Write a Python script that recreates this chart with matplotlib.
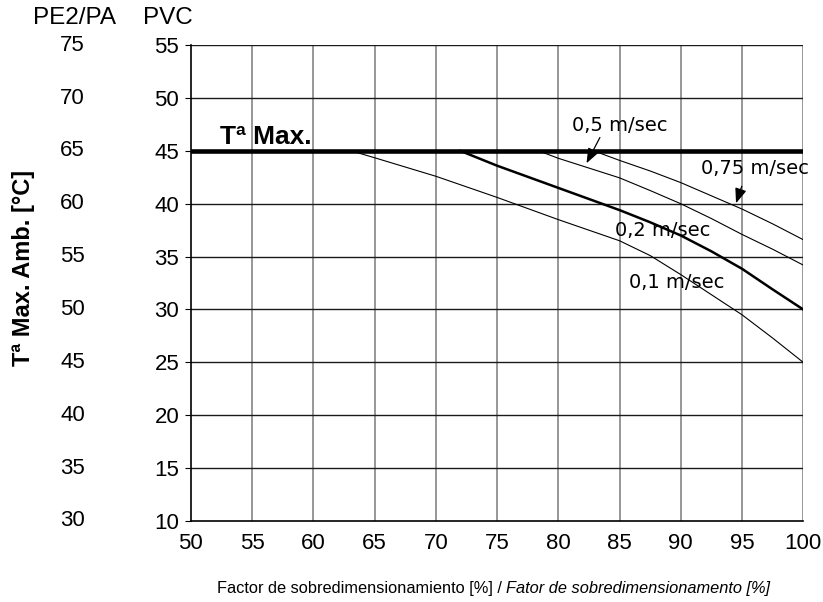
import matplotlib
matplotlib.use('Agg')
import matplotlib.pyplot as plt
from matplotlib.transforms import blended_transform_factory

plt.rcParams['font.family'] = ['Liberation Sans', 'DejaVu Sans']

# curves, PVC scale (left axis)
v01_x = [63.1, 65, 70, 75, 80, 85, 87.5, 90, 92.5, 95, 97.5, 100]
v01_y = [45, 44.35, 42.6, 40.6, 38.5, 36.5, 35.1, 33.3, 31.4, 29.5, 27.3, 25]
v02_x = [72, 75, 80, 85, 87.5, 90, 92.5, 95, 97.5, 100]
v02_y = [45, 43.6, 41.5, 39.4, 38.25, 37.0, 35.5, 33.85, 31.9, 30]
v05_x = [78.4, 80, 85, 87.5, 90, 92.5, 95, 97.5, 100]
v05_y = [45, 44.3, 42.45, 41.25, 40.0, 38.6, 37.1, 35.7, 34.2]
v075_x = [82.9, 85, 87.5, 90, 92.5, 95, 97.5, 100]
v075_y = [45, 44.1, 43.1, 42.0, 40.75, 39.5, 38.1, 36.6]

t_max = 45
pvc_ticks = [10, 15, 20, 25, 30, 35, 40, 45, 50, 55]
pe_ticks = [30, 35, 40, 45, 50, 55, 60, 65, 70, 75]
x_ticks = [50, 55, 60, 65, 70, 75, 80, 85, 90, 95, 100]

fig = plt.figure(figsize=(8.23, 6.02), dpi=100)
ax = fig.add_axes([0.232, 0.1346, 0.744, 0.7904])

ax.set_xlim(50, 100)
ax.set_ylim(10, 55)
ax.set_xticks(x_ticks)
ax.set_yticks(pvc_ticks)
ax.tick_params(axis='x', length=0, pad=8.5, labelsize=16)
ax.tick_params(axis='y', length=4, pad=4.5, labelsize=16, direction='out')
for s in ['top', 'right']:
    ax.spines[s].set_visible(False)
for s in ['left', 'bottom']:
    ax.spines[s].set_linewidth(1.2)

# grid
for x in x_ticks[1:]:
    ax.axvline(x, color='#7a7a7a', lw=1.1, zorder=1)
for y in pvc_ticks[1:]:
    ax.axhline(y, color='#1a1a1a', lw=1.0, zorder=1)

ax.axhline(t_max, color='black', lw=3.3, zorder=3)
ax.plot(v01_x, v01_y, color='black', lw=0.8, zorder=2)
ax.plot(v02_x, v02_y, color='black', lw=1.8, zorder=2)
ax.plot(v05_x, v05_y, color='black', lw=0.8, zorder=2)
ax.plot(v075_x, v075_y, color='black', lw=0.8, zorder=2)

ax.text(52.35, 45.65, 'Tª Max.', fontsize=19, fontweight='bold', va='baseline', ha='left')

lab_font = dict(fontsize=14, family='DejaVu Sans', va='center', ha='left')
ax.text(81.1, 47.4, '0,5 m/sec', **lab_font)
ax.text(91.67, 43.3, '0,75 m/sec', **lab_font)
ax.text(84.64, 37.5, '0,2 m/sec', **lab_font)
ax.text(85.78, 32.6, '0,1 m/sec', **lab_font)

arrow = dict(arrowstyle='-|>,head_length=0.9,head_width=0.35', color='black', lw=0.9)
ax.annotate('', xy=(82.2, 43.6), xytext=(83.5, 46.5), arrowprops=arrow)
ax.annotate('', xy=(94.44, 39.8), xytext=(95.05, 41.9), arrowprops=arrow)

# second scale PE2/PA
tr = blended_transform_factory(ax.transAxes, ax.transData)
for pv, pe in zip(pvc_ticks, pe_ticks):
    ax.text(-0.173, pv, str(pe), transform=tr, ha='right', va='center', fontsize=16)

fig.text(33 / 823, 1 - 18 / 602, 'PE2/PA', fontsize=17.5, ha='left', va='center')
fig.text(143 / 823, 1 - 18 / 602, 'PVC', fontsize=17.5, ha='left', va='center')
fig.text(24 / 823, 1 - 268 / 602, 'Tª Max. Amb. [°C]', fontsize=17, fontweight='bold',
         rotation=90, ha='center', va='center')

fig.text(506 / 823, 1 - 588 / 602, 'Factor de sobredimensionamiento [%] / ', fontsize=11.8,
         ha='right', va='center')
fig.text(506 / 823, 1 - 588 / 602, 'Fator de sobredimensionamento [%]', fontsize=11.8,
         ha='left', va='center', style='italic')

fig.savefig('out.png', dpi=100)
